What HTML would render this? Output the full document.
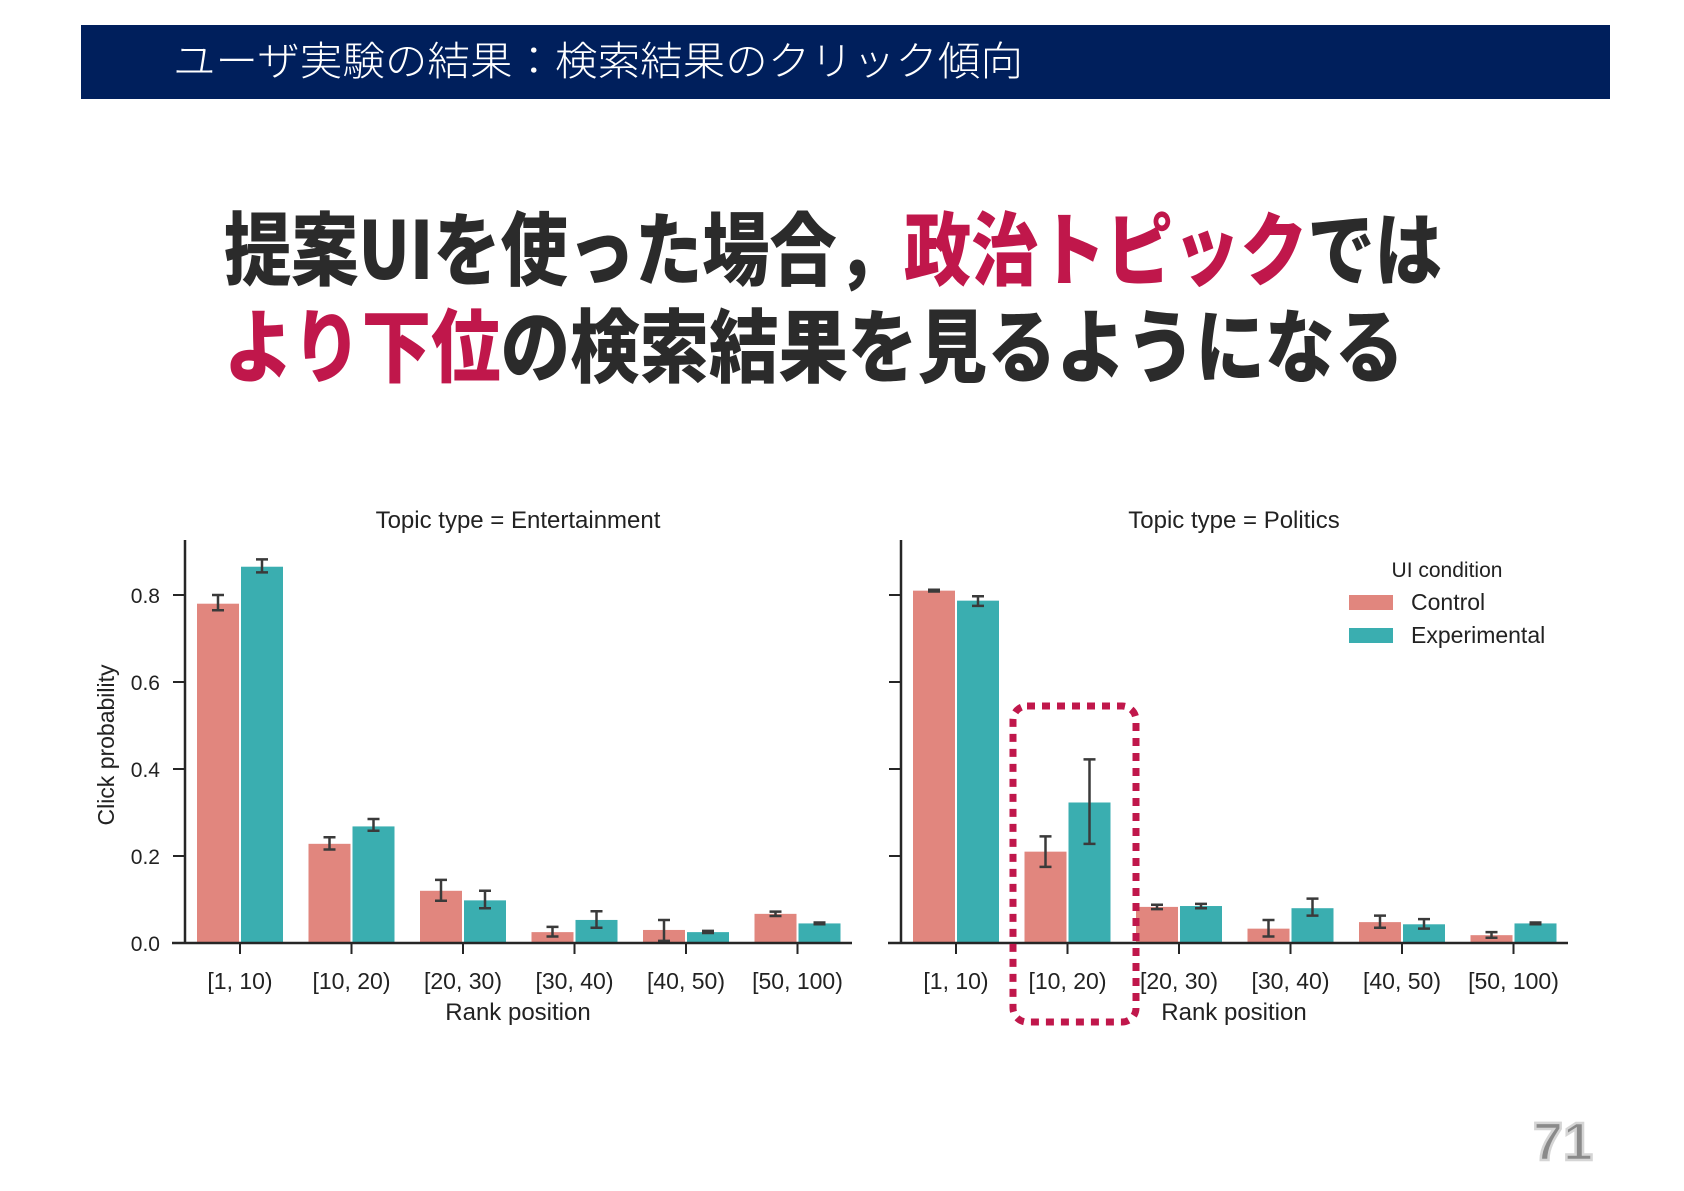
<!DOCTYPE html>
<html><head><meta charset="utf-8"><style>
html,body{margin:0;padding:0;background:#fff;}
svg{display:block;font-family:"Liberation Sans","Noto Sans CJK JP",sans-serif;}
</style></head><body>
<svg id="page" width="1684" height="1191" viewBox="0 0 1684 1191">
<rect x="81" y="25" width="1529" height="74" fill="#001f5c"/>
<text x="173" y="75" font-size="40" fill="#fff" font-family="Noto Sans CJK JP, sans-serif" font-weight="300" textLength="850" lengthAdjust="spacingAndGlyphs">ユーザ実験の結果：検索結果のクリック傾向</text>
<g font-family="Noto Sans CJK JP, sans-serif" font-weight="900" font-size="80">
<text x="224" y="279" fill="#2b2b2b" textLength="1218" lengthAdjust="spacingAndGlyphs">提案UIを使った場合，<tspan fill="#c0174b">政治トピック</tspan>では</text>
<text x="224" y="376" fill="#2b2b2b" textLength="1180" lengthAdjust="spacingAndGlyphs"><tspan fill="#c0174b">より下位</tspan>の検索結果を見るようになる</text>
</g>
<g id="charts"></g>
<rect x="1013" y="706" width="123" height="316" rx="14" fill="none" stroke="#c0174b" stroke-width="7" stroke-dasharray="8,7"/>
<text x="1563" y="1160" font-size="54" font-weight="bold" fill="#8a8a8a" stroke="#d5d5d5" stroke-width="2.5" text-anchor="middle">71</text>
</svg>
<script>
const categories = ["[1, 10)","[10, 20)","[20, 30)","[30, 40)","[40, 50)","[50, 100)"];
const yTicks = [0.0,0.2,0.4,0.6,0.8];
const entControl = [0.78,0.228,0.12,0.025,0.03,0.067];
const entControlLo = [0.765,0.215,0.097,0.015,0.005,0.062];
const entControlHi = [0.80,0.243,0.145,0.037,0.053,0.072];
const entExp = [0.865,0.268,0.098,0.053,0.025,0.045];
const entExpLo = [0.852,0.258,0.08,0.035,0.023,0.043];
const entExpHi = [0.882,0.285,0.12,0.073,0.028,0.047];
const polControl = [0.81,0.21,0.083,0.033,0.048,0.018];
const polControlLo = [0.808,0.175,0.078,0.015,0.035,0.012];
const polControlHi = [0.812,0.245,0.088,0.053,0.063,0.025];
const polExp = [0.787,0.323,0.085,0.08,0.043,0.045];
const polExpLo = [0.775,0.228,0.08,0.063,0.033,0.043];
const polExpHi = [0.797,0.422,0.09,0.102,0.055,0.047];

const NS="http://www.w3.org/2000/svg";
const root=document.getElementById('charts');
const C1="#e1867e", C2="#3aaeb0", AX="#262626";
function mk(tag,attrs,parent){const e=document.createElementNS(NS,tag);for(const k in attrs)e.setAttribute(k,attrs[k]);(parent||root).appendChild(e);return e;}
const base=943, unit=435;
function yS(v){return base-v*unit;}
function panel(ox,title,ctrl,cLo,cHi,exp,eLo,eHi,showY,name){
  const g=mk('g',{});
  
  
  const step=111.5, bw=42, first=ox+55;
  function xS(i){return first+i*step;}
  const t=mk('text',{x:ox+333,y:528,'font-size':24,'text-anchor':'middle',fill:'#222'},g);t.textContent=title;
  
  const series=[[ctrl,cLo,cHi,C1,-1],[exp,eLo,eHi,C2,1]];
  series.forEach(s=>{
    s[0].forEach((v,i)=>{
      const x=s[4]<0?xS(i)-bw-1:xS(i)+1;
      const r=mk('rect',{x:x,y:yS(v),width:bw,height:base-yS(v),fill:s[3]},g);
      
      const cx=x+bw/2;
      const e=mk('path',{d:`M${cx},${yS(s[1][i])}V${yS(s[2][i])}M${cx-6},${yS(s[1][i])}h12M${cx-6},${yS(s[2][i])}h12`,stroke:'#3a3a3a','stroke-width':2.5,fill:'none'},g);
      
    });
  });
  const ya=mk('line',{x1:ox,y1:540,x2:ox,y2:base,stroke:AX,'stroke-width':2.5},g);
  
  const xa=mk('line',{x1:ox-13,y1:base,x2:ox+667,y2:base,stroke:AX,'stroke-width':2.5},g);
  
  yTicks.forEach(v=>{
    mk('line',{x1:ox-12,y1:yS(v),x2:ox,y2:yS(v),stroke:AX,'stroke-width':2},g);
    if(showY){const l=mk('text',{x:ox-25,y:yS(v)+8,'font-size':21,'text-anchor':'end',fill:'#222'},g);l.textContent=v.toFixed(1);
      }
  });
  categories.forEach((c,i)=>{
    mk('line',{x1:xS(i),y1:base,x2:xS(i),y2:base+11,stroke:AX,'stroke-width':2},g);
    const l=mk('text',{x:xS(i),y:989,'font-size':23,'text-anchor':'middle',fill:'#222'},g);l.textContent=c;
    
  });
  const xl=mk('text',{x:ox+333,y:1020,'font-size':24,'text-anchor':'middle',fill:'#222'},g);xl.textContent='Rank position';
  
  if(showY){const yl=mk('text',{x:0,y:0,'font-size':23,'text-anchor':'middle',fill:'#222',transform:`translate(114,745) rotate(-90)`},g);yl.textContent='Click probability';
    }
}
panel(185,'Topic type = Entertainment',entControl,entControlLo,entControlHi,entExp,entExpLo,entExpHi,true,'entertainment-panel');
panel(901,'Topic type = Politics',polControl,polControlLo,polControlHi,polExp,polExpLo,polExpHi,false,'politics-panel');
const lg=mk('g',{});


const lt=mk('text',{x:1447,y:577,'font-size':21,'text-anchor':'middle',fill:'#222'},lg);lt.textContent='UI condition';
const p1=mk('rect',{x:1349,y:595,width:44,height:15,fill:C1},lg);


const t1=mk('text',{x:1411,y:610,'font-size':23,fill:'#222'},lg);t1.textContent='Control';
const p2=mk('rect',{x:1349,y:628,width:44,height:15,fill:C2},lg);


const t2=mk('text',{x:1411,y:643,'font-size':23,fill:'#222'},lg);t2.textContent='Experimental';
</script>
</body></html>
